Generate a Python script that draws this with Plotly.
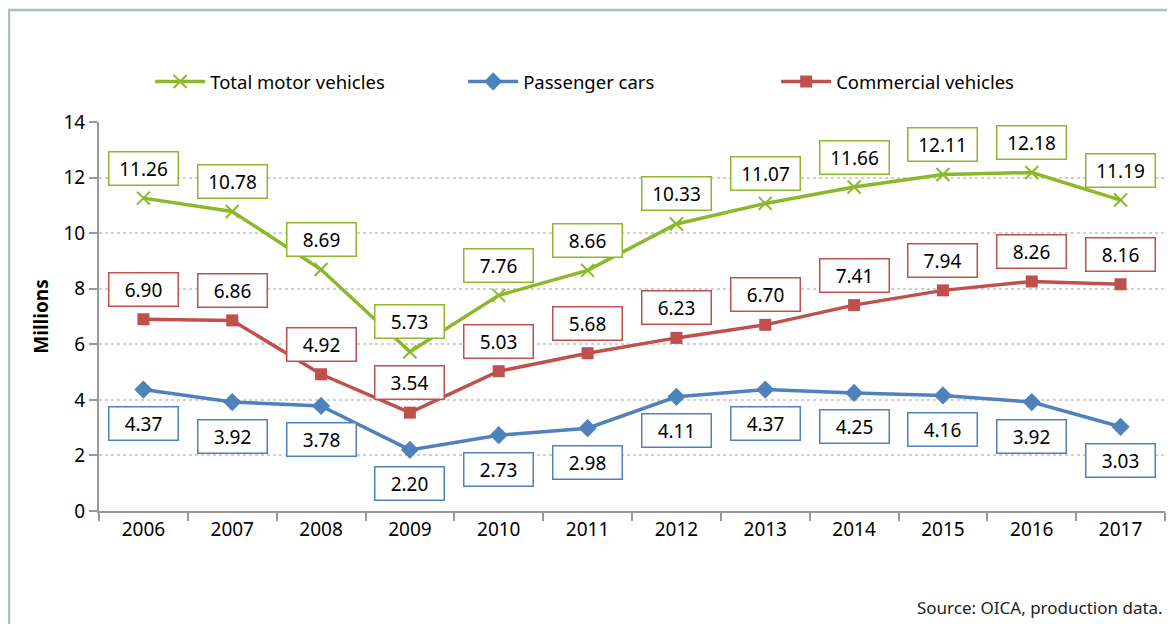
import plotly.graph_objects as go

years = ["2006", "2007", "2008", "2009", "2010", "2011", "2012", "2013", "2014", "2015", "2016", "2017"]
total_motor = [11.26, 10.78, 8.69, 5.73, 7.76, 8.66, 10.33, 11.07, 11.66, 12.11, 12.18, 11.19]
passenger_cars = [4.37, 3.92, 3.78, 2.20, 2.73, 2.98, 4.11, 4.37, 4.25, 4.16, 3.92, 3.03]
commercial = [6.90, 6.86, 4.92, 3.54, 5.03, 5.68, 6.23, 6.70, 7.41, 7.94, 8.26, 8.16]

GREEN = "#8cb82b"
BLUE = "#4f81bd"
RED = "#c0504d"
FONT = "Noto Sans"

fig = go.Figure()

fig.add_trace(go.Scatter(
    x=years, y=total_motor, name="Total motor vehicles", mode="lines+markers",
    line=dict(color=GREEN, width=3.5),
    marker=dict(symbol="x-thin-open", size=13, line=dict(color=GREEN, width=2)),
))
fig.add_trace(go.Scatter(
    x=years, y=passenger_cars, name="Passenger cars", mode="lines+markers",
    line=dict(color=BLUE, width=3.5),
    marker=dict(symbol="diamond", size=14, color=BLUE),
))
fig.add_trace(go.Scatter(
    x=years, y=commercial, name="Commercial vehicles", mode="lines+markers",
    line=dict(color=RED, width=3.5),
    marker=dict(symbol="square", size=12, color=RED),
))

# boxed data labels (x given as category index so the axis range stays put)
for vals, col, shift in [(total_motor, GREEN, 30), (commercial, RED, 30), (passenger_cars, BLUE, -34)]:
    for i, v in enumerate(vals):
        fig.add_annotation(
            x=i, y=v, text=f"{v:.2f}", showarrow=False, yshift=shift,
            font=dict(family=FONT, size=19, color="black"),
            bordercolor=col, borderwidth=1.5, borderpad=2, bgcolor="white",
            width=64, height=28,
        )

fig.add_annotation(
    text="Source: OICA, production data.", xref="paper", yref="paper",
    x=1.0, y=-0.247, xanchor="right", yanchor="middle", showarrow=False,
    font=dict(family=FONT, size=17, color="#222222"),
)

# outer frame
fig.add_shape(
    type="rect", xref="paper", yref="paper",
    x0=-0.0845, x1=1.05, y0=-0.4, y1=1.288,
    line=dict(color="#a8c0c0", width=2.5), layer="below",
)

fig.update_layout(
    width=1175, height=624, autosize=False,
    margin=dict(l=91, r=18, t=114, b=121),
    plot_bgcolor="white", paper_bgcolor="white",
    font=dict(family=FONT, size=18, color="black"),
    showlegend=True,
    legend=dict(
        orientation="h", x=0.048, y=1.103, xanchor="left", yanchor="middle",
        font=dict(family=FONT, size=18.5), entrywidth=248, entrywidthmode="pixels",
        traceorder="normal", itemwidth=50,
    ),
    xaxis=dict(
        type="category", range=[-0.5, 11.5], autorange=False,
        showgrid=False, showline=True, linecolor="#999999", linewidth=2,
        ticks="outside", tickson="boundaries", ticklen=8, tickcolor="#999999", tickwidth=2,
        tickfont=dict(family=FONT, size=19), tickangle=0,
    ),
    yaxis=dict(
        range=[0, 14], dtick=2, showline=True, linecolor="#999999", linewidth=2,
        ticks="outside", ticklen=8, tickcolor="#999999", tickwidth=2,
        showgrid=True, gridcolor="#d0d0d0", griddash="dot", gridwidth=1.5,
        zeroline=False,
        tickfont=dict(family=FONT, size=19),
        title=dict(text="<b>Millions</b>", font=dict(family=FONT, size=19), standoff=10),
    ),
)

fig.write_html("out.html")
